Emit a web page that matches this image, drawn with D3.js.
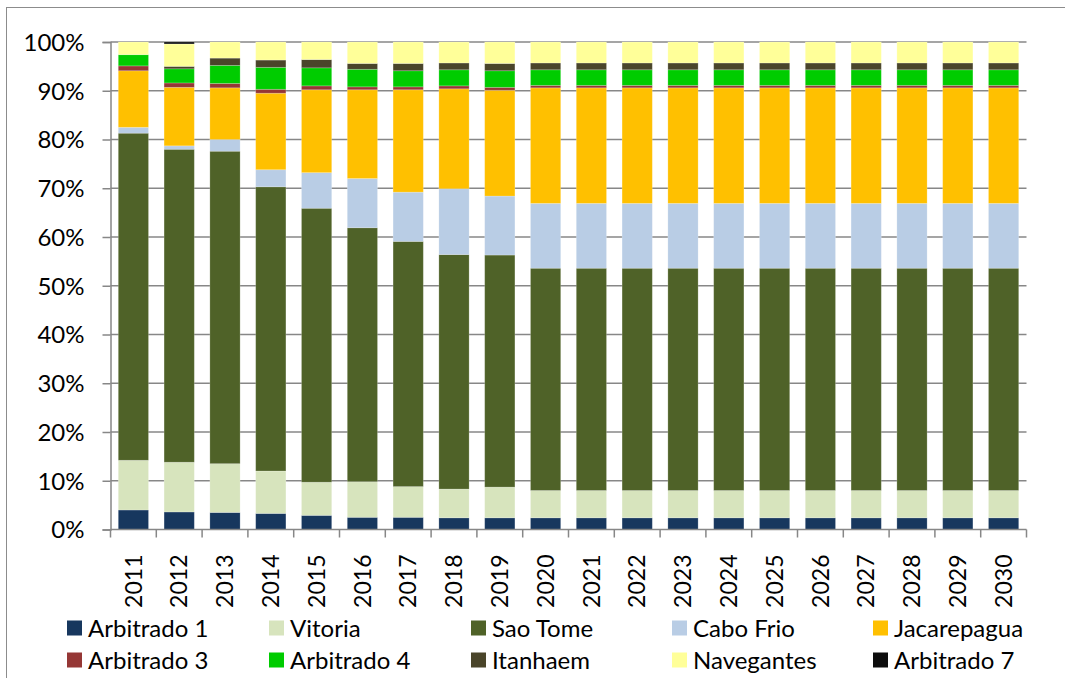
<!DOCTYPE html>
<html>
<head>
<meta charset="utf-8">
<script src="https://cdn.jsdelivr.net/npm/d3@7"></script>
<style>
  body { margin: 0; background: #fff; }
  svg { display: block; font-family: Lato, "Noto Sans", sans-serif; }
</style>
</head>
<body>
<svg id="chart" width="1065" height="678"></svg>
<script>
// years on the x axis
var years = ['2011','2012','2013','2014','2015','2016','2017','2018','2019','2020',
             '2021','2022','2023','2024','2025','2026','2027','2028','2029','2030'];

// share of each terminal per year (%), stacked bottom -> top
var arbitrado1  = [4.0, 3.6, 3.5, 3.3, 2.9, 2.5, 2.5, 2.4, 2.4, 2.4, 2.4, 2.4, 2.4, 2.4, 2.4, 2.4, 2.4, 2.4, 2.4, 2.4];
var vitoria     = [10.2, 10.2, 10.0, 8.7, 6.8, 7.3, 6.3, 5.9, 6.3, 5.6, 5.6, 5.6, 5.6, 5.6, 5.6, 5.6, 5.6, 5.6, 5.6, 5.6];
var saoTome     = [67.1, 64.2, 64.1, 58.3, 56.2, 52.1, 50.3, 48.1, 47.6, 45.6, 45.6, 45.6, 45.6, 45.6, 45.6, 45.6, 45.6, 45.6, 45.6, 45.6];
var caboFrio    = [1.2, 0.7, 2.4, 3.5, 7.3, 10.1, 10.1, 13.5, 12.1, 13.3, 13.3, 13.3, 13.3, 13.3, 13.3, 13.3, 13.3, 13.3, 13.3, 13.3];
var jacarepagua = [11.6, 12.0, 10.6, 15.7, 17.0, 18.2, 21.0, 20.5, 21.7, 23.7, 23.7, 23.7, 23.7, 23.7, 23.7, 23.7, 23.7, 23.7, 23.7, 23.7];
var arbitrado3  = [1.0, 0.9, 0.9, 0.8, 0.8, 0.6, 0.6, 0.6, 0.6, 0.5, 0.5, 0.5, 0.5, 0.5, 0.5, 0.5, 0.5, 0.5, 0.5, 0.5];
var arbitrado4  = [2.3, 2.9, 3.7, 4.5, 3.7, 3.6, 3.3, 3.3, 3.4, 3.2, 3.2, 3.2, 3.2, 3.2, 3.2, 3.2, 3.2, 3.2, 3.2, 3.2];
var itanhaem    = [0.0, 0.5, 1.5, 1.5, 1.7, 1.2, 1.5, 1.4, 1.5, 1.4, 1.4, 1.4, 1.4, 1.4, 1.4, 1.4, 1.4, 1.4, 1.4, 1.4];
var navegantes  = [2.6, 4.6, 3.3, 3.7, 3.6, 4.4, 4.4, 4.3, 4.4, 4.3, 4.3, 4.3, 4.3, 4.3, 4.3, 4.3, 4.3, 4.3, 4.3, 4.3];
var arbitrado7  = [0, 0.4, 0, 0, 0, 0, 0, 0, 0, 0, 0, 0, 0, 0, 0, 0, 0, 0, 0, 0];

var seriesNames = ['Arbitrado 1','Vitoria','Sao Tome','Cabo Frio','Jacarepagua',
                   'Arbitrado 3','Arbitrado 4','Itanhaem','Navegantes','Arbitrado 7'];
var seriesValues = [arbitrado1, vitoria, saoTome, caboFrio, jacarepagua,
                    arbitrado3, arbitrado4, itanhaem, navegantes, arbitrado7];
var colors = ['#17375e','#d7e4bd','#4f6228','#b9cde5','#ffc000',
              '#953735','#00cc00','#4a452a','#ffff99','#0d0d0d'];

var yTicks = [0,10,20,30,40,50,60,70,80,90,100];

// build rows for d3.stack
var rows = years.map(function(yr, i){
    var r = {year: yr};
    seriesNames.forEach(function(n, k){ r[n] = seriesValues[k][i]; });
    return r;
});

var svg = d3.select('#chart');
var plotLeft = 110.5, plotRight = 1026.5, plotTop = 42, plotBottom = 529.5;
var gridColor = '#878787';

// outer chart frame
svg.append('rect')
    .attr('x', 6.5).attr('y', 7.5)
    .attr('width', 1075).attr('height', 690)
    .attr('fill', 'none')
    .attr('stroke', '#8c8c8c')
    .attr('stroke-width', 1);

var x = d3.scaleBand().domain(years).range([plotLeft, plotRight]).paddingInner(0.34).paddingOuter(0.17);
var y = d3.scaleLinear().domain([0, 100]).range([plotBottom, plotTop]);

// gridlines
svg.append('g')
    .selectAll('line')
    .data(yTicks.slice(1))
    .enter().append('line')
    .attr('x1', plotLeft).attr('x2', plotRight)
    .attr('y1', function(d){ return y(d); })
    .attr('y2', function(d){ return y(d); })
    .attr('stroke', gridColor)
    .attr('stroke-width', 1.5);

// stacked bars
var stack = d3.stack().keys(seriesNames);
var layers = stack(rows);

svg.append('g')
    .selectAll('g')
    .data(layers)
    .enter().append('g')
    .attr('fill', function(d, i){ return colors[i]; })
    .selectAll('rect')
    .data(function(d){ return d; })
    .enter().append('rect')
    .attr('x', function(d){ return x(d.data.year); })
    .attr('width', x.bandwidth())
    .attr('y', function(d){ return y(d[1]); })
    .attr('height', function(d){ return Math.max(0, y(d[0]) - y(d[1])); })
    .attr('stroke', 'rgba(255,255,255,0.25)')
    .attr('stroke-width', 0.8);

// y axis
var yAxis = d3.axisLeft(y)
    .tickValues(yTicks)
    .tickFormat(function(d){ return d + '%'; })
    .tickSize(8)
    .tickPadding(18);

var gy = svg.append('g').attr('transform', 'translate(' + plotLeft + ',0)').call(yAxis);
gy.attr('font-family', null).attr('font-size', null);
gy.select('.domain').attr('stroke', gridColor).attr('stroke-width', 1.5);
gy.selectAll('.tick line').attr('stroke', gridColor).attr('stroke-width', 1.5);
gy.selectAll('.tick text')
    .attr('fill', '#000')
    .style('font-size', '24px')
    .attr('dy', '0.35em');

// x axis: ticks at category boundaries
var gx = svg.append('g').attr('transform', 'translate(0,' + plotBottom + ')');
gx.append('line')
    .attr('x1', plotLeft).attr('x2', plotRight)
    .attr('stroke', gridColor).attr('stroke-width', 1.5);

var step = x.step();
gx.selectAll('line.tk')
    .data(d3.range(years.length + 1))
    .enter().append('line')
    .attr('class', 'tk')
    .attr('x1', function(i){ return plotLeft + i * step; })
    .attr('x2', function(i){ return plotLeft + i * step; })
    .attr('y1', 0).attr('y2', 8)
    .attr('stroke', gridColor).attr('stroke-width', 1.5);

gx.selectAll('text')
    .data(years)
    .enter().append('text')
    .attr('transform', function(d){
        return 'translate(' + (x(d) + x.bandwidth() / 2) + ',25) rotate(-90)';
    })
    .attr('text-anchor', 'end')
    .attr('dy', '0.36em')
    .style('font-size', '23px')
    .text(function(d){ return d; });

// legend
var legendX = [67, 269, 471, 672, 873];
var legendY = [628, 660];
var legend = svg.append('g')
    .selectAll('g')
    .data(seriesNames)
    .enter().append('g')
    .attr('transform', function(d, i){
        return 'translate(' + legendX[i % 5] + ',' + legendY[Math.floor(i / 5)] + ')';
    });

legend.append('rect')
    .attr('x', 0).attr('y', -7.5)
    .attr('width', 15).attr('height', 15)
    .attr('fill', function(d, i){ return colors[i]; });

legend.append('text')
    .attr('x', 21)
    .attr('dy', '0.36em')
    .style('font-size', '24px')
    .text(function(d){ return d; });
</script>
</body>
</html>
